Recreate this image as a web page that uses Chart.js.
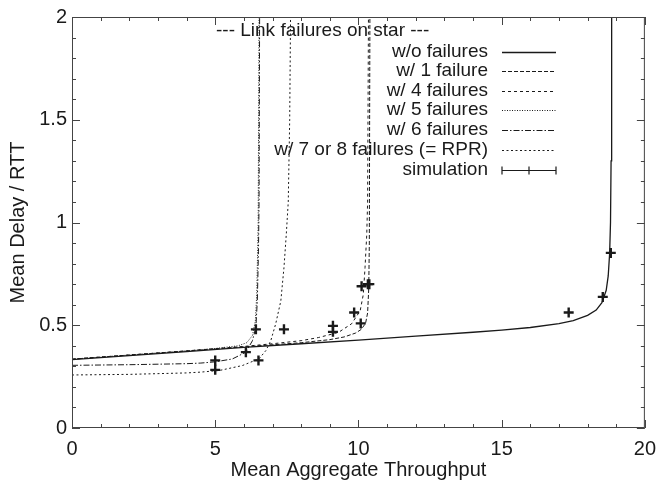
<!DOCTYPE html>
<html>
<head>
<meta charset="utf-8">
<script src="https://cdn.jsdelivr.net/npm/chart.js@4.4.1/dist/chart.umd.min.js"></script>
<style>
  html, body { margin: 0; padding: 0; background: #fff; }
  #wrap { width: 665px; height: 490px; }
</style>
</head>
<body>
<div id="wrap"><canvas id="delayChart" width="665" height="490"></canvas></div>
<script>
// analytic curves
const noFailX = [0, 2, 4, 6, 8, 10, 12, 14, 15, 16, 17, 17.5, 18, 18.3, 18.5, 18.65, 18.72, 18.77, 18.8, 18.82, 18.84];
const noFailY = [0.333, 0.352, 0.372, 0.392, 0.41, 0.428, 0.447, 0.466, 0.476, 0.489, 0.508, 0.522, 0.548, 0.574, 0.61, 0.67, 0.74, 0.85, 1.0, 1.3, 2.0];

const fail1X = [0, 2, 4, 6, 8, 9, 9.5, 9.9, 10.1, 10.25, 10.32, 10.36, 10.38, 10.4];
const fail1Y = [0.335, 0.355, 0.375, 0.395, 0.415, 0.43, 0.443, 0.462, 0.48, 0.51, 0.56, 0.68, 0.9, 2.0];

const fail4X = [0, 2, 4, 6, 7, 8, 8.6, 9.3, 9.76, 10.06, 10.17, 10.23, 10.29, 10.32, 10.35];
const fail4Y = [0.335, 0.355, 0.375, 0.397, 0.41, 0.425, 0.44, 0.465, 0.507, 0.57, 0.65, 0.78, 0.94, 1.1, 2.0];

const fail5X = [0, 2, 4, 5, 5.8, 6.1, 6.3, 6.4, 6.45, 6.5, 6.53];
const fail5Y = [0.335, 0.355, 0.375, 0.387, 0.4, 0.415, 0.45, 0.52, 0.65, 1.0, 2.0];

const fail6X = [0, 2, 4, 4.5, 5, 5.6, 6.07, 6.3, 6.42, 6.47, 6.51, 6.53, 6.55];
const fail6Y = [0.305, 0.308, 0.313, 0.316, 0.322, 0.336, 0.369, 0.425, 0.49, 0.62, 0.86, 1.1, 2.0];

const fail78X = [0, 2, 4, 4.5, 5.15, 5.95, 6.53, 6.77, 6.94, 7.11, 7.29, 7.4, 7.48, 7.55, 7.6, 7.63];
const fail78Y = [0.258, 0.261, 0.268, 0.272, 0.28, 0.304, 0.337, 0.377, 0.425, 0.506, 0.618, 0.78, 0.94, 1.1, 1.5, 2.0];

// simulation points
const simX = [5.0, 5.0, 6.07, 6.42, 6.51, 7.4, 9.11, 9.11, 9.85, 10.08, 10.11, 10.33, 10.38, 17.34, 18.53, 18.81];
const simY = [0.283, 0.329, 0.369, 0.48, 0.329, 0.48, 0.497, 0.468, 0.562, 0.509, 0.69, 0.70, 0.70, 0.562, 0.638, 0.852];

const seriesLabels = ['w/o failures', 'w/ 1 failure', 'w/ 4 failures', 'w/ 5 failures', 'w/ 6 failures', 'w/ 7 or 8 failures (= RPR)', 'simulation'];
const keyTitle = '--- Link failures on star ---';

const FONT = '"Liberation Sans", Arial, Helvetica, sans-serif';
const INK = '#1a1a1a';

const toPts = (xs, ys) => xs.map((x, i) => ({ x: x, y: ys[i] }));

const lineSets = [
    { xs: noFailX, ys: noFailY, dash: [] , width: 1.3 },
    { xs: fail1X, ys: fail1Y, dash: [4, 2], width: 1 },
    { xs: fail4X, ys: fail4Y, dash: [3, 3], width: 1 },
    { xs: fail5X, ys: fail5Y, dash: [1, 1.5], width: 1 },
    { xs: fail6X, ys: fail6Y, dash: [6, 2, 1.5, 2], width: 1 },
    { xs: fail78X, ys: fail78Y, dash: [2, 2.5], width: 1 }
];

const datasets = lineSets.map((s, i) => ({
    label: seriesLabels[i],
    data: toPts(s.xs, s.ys),
    borderColor: INK,
    borderWidth: s.width,
    borderDash: s.dash,
    pointRadius: 0,
    fill: false,
    tension: 0,
    showLine: true
}));

datasets.push({
    label: seriesLabels[6],
    data: toPts(simX, simY),
    showLine: false,
    pointStyle: 'cross',
    pointRadius: 5,
    borderWidth: 2.4,
    borderColor: INK,
    backgroundColor: INK
});

// box frame, inward ticks and the gnuplot-style key
const framePlugin = {
    id: 'frame',
    afterDraw(chart) {
        const ctx = chart.ctx;
        const a = chart.chartArea;
        const xs = chart.scales.x;
        const ys = chart.scales.y;
        ctx.save();
        ctx.strokeStyle = '#444';
        ctx.lineWidth = 1;
        ctx.setLineDash([]);
        ctx.strokeRect(a.left + 0.5, a.top + 0.5, a.right - a.left - 1, a.bottom - a.top - 1);
        ctx.beginPath();
        for (let i = 0; i <= 20; i++) {
            const px = Math.round(xs.getPixelForValue(i)) + 0.5;
            const len = i % 5 === 0 ? 8 : 4;
            ctx.moveTo(px, a.bottom); ctx.lineTo(px, a.bottom - len);
            ctx.moveTo(px, a.top); ctx.lineTo(px, a.top + len);
        }
        for (let i = 0; i <= 20; i++) {
            const py = Math.round(ys.getPixelForValue(i / 10)) + 0.5;
            const len = i % 5 === 0 ? 8 : 4;
            ctx.moveTo(a.left, py); ctx.lineTo(a.left + len, py);
            ctx.moveTo(a.right, py); ctx.lineTo(a.right - len, py);
        }
        ctx.stroke();

        // key
        ctx.fillStyle = INK;
        ctx.font = '19px ' + FONT;
        ctx.textBaseline = 'middle';
        ctx.textAlign = 'left';
        ctx.fillText(keyTitle, 216, 31);
        ctx.textAlign = 'right';
        const rowY = [51.5, 71, 90.5, 110, 129.5, 149.5, 169.5];
        ctx.strokeStyle = INK;
        seriesLabels.forEach((lab, i) => {
            const y = rowY[i];
            ctx.fillText(lab, 488, y);
            const sy = Math.round(y) + 0.5;
            ctx.beginPath();
            if (i < 6) {
                ctx.lineWidth = lineSets[i].width;
                ctx.setLineDash(lineSets[i].dash);
                ctx.moveTo(502, sy); ctx.lineTo(556, sy);
            } else {
                ctx.lineWidth = 1.2;
                ctx.setLineDash([]);
                ctx.moveTo(502, sy); ctx.lineTo(556, sy);
                ctx.moveTo(502, sy - 4); ctx.lineTo(502, sy + 4);
                ctx.moveTo(556, sy - 4); ctx.lineTo(556, sy + 4);
                ctx.moveTo(529, sy - 4); ctx.lineTo(529, sy + 4);
            }
            ctx.stroke();
        });
        ctx.restore();
    }
};

new Chart(document.getElementById('delayChart'), {
    type: 'line',
    data: { datasets: datasets },
    plugins: [framePlugin],
    options: {
        responsive: false,
        animation: false,
        events: [],
        layout: { padding: { top: 14, right: 17, left: 0, bottom: 0 } },
        plugins: {
            legend: { display: false },
            tooltip: { enabled: false }
        },
        scales: {
            x: {
                type: 'linear',
                min: 0,
                max: 20,
                afterFit: (scale) => { scale.height = 62; },
                grid: { display: false, drawTicks: false },
                border: { display: false },
                ticks: {
                    stepSize: 1,
                    autoSkip: false,
                    maxRotation: 0,
                    padding: 9,
                    color: INK,
                    font: { family: FONT, size: 20 },
                    callback: (v) => (Math.abs(v % 5) < 1e-6 ? String(v) : '')
                },
                title: {
                    display: true,
                    text: 'Mean Aggregate Throughput',
                    color: INK,
                    font: { family: FONT, size: 20 },
                    padding: { top: 0, bottom: 8 }
                }
            },
            y: {
                type: 'linear',
                min: 0,
                max: 2,
                afterFit: (scale) => { scale.width = 72; },
                grid: { display: false, drawTicks: false },
                border: { display: false },
                ticks: {
                    stepSize: 0.1,
                    autoSkip: false,
                    padding: 5,
                    color: INK,
                    font: { family: FONT, size: 20 },
                    callback: (v) => {
                        const h = v * 2;
                        return Math.abs(h - Math.round(h)) < 1e-6 ? String(Math.round(h) / 2) : '';
                    }
                },
                title: {
                    display: true,
                    text: 'Mean Delay / RTT',
                    color: INK,
                    font: { family: FONT, size: 20 },
                    padding: { top: 6, bottom: 0 }
                }
            }
        }
    }
});
</script>
</body>
</html>
